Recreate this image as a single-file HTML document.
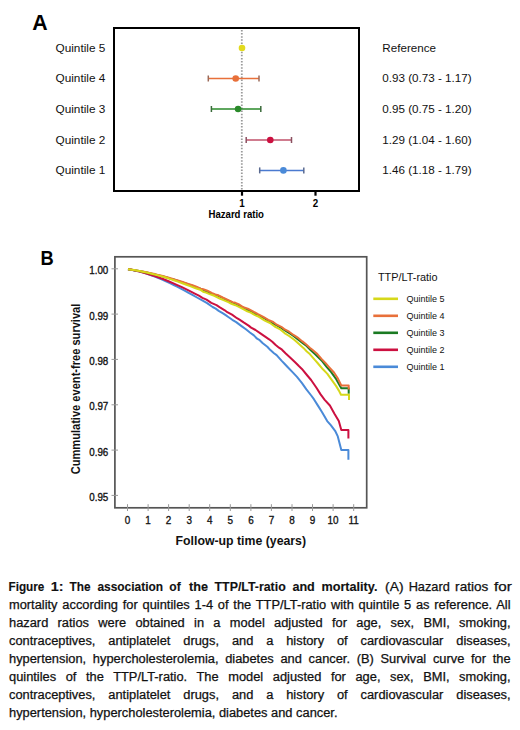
<!DOCTYPE html>
<html><head><meta charset="utf-8">
<style>
html,body{margin:0;padding:0;background:#fff;}
body{width:520px;height:730px;position:relative;overflow:hidden;font-family:"Liberation Sans",sans-serif;}
svg{position:absolute;left:0;top:0;}
svg text{font-family:"Liberation Sans",sans-serif;}
.ln{position:absolute;left:9.3px;width:468.5px;transform:scaleX(1.0705);transform-origin:0 0;font-size:12px;line-height:18px;height:18px;color:#111;-webkit-text-stroke:0.25px #111;text-align:justify;text-align-last:justify;white-space:nowrap;}
.ln.last{text-align-last:left;}
</style></head><body>
<svg width="520" height="730" viewBox="0 0 520 730">
<text x="32.3" y="29.8" font-size="21.3" font-weight="bold">A</text>
<rect x="114" y="28" width="245" height="163" fill="none" stroke="#000" stroke-width="2"/>
<line x1="241.8" y1="30" x2="241.8" y2="190" stroke="#9a9a9a" stroke-width="1.8" stroke-dasharray="1.5 1.6"/>
<text x="55.5" y="51.9" font-size="11.8" fill="#111">Quintile 5</text>
<text x="382.3" y="51.9" font-size="11.65" fill="#111">Reference</text>
<circle cx="242.0" cy="48.0" r="3.3" fill="#e2da1e"/>
<text x="55.5" y="82.4" font-size="11.8" fill="#111">Quintile 4</text>
<text x="382.3" y="82.4" font-size="11.65" fill="#111">0.93 (0.73 - 1.17)</text>
<line x1="208.3" y1="78.5" x2="259.0" y2="78.5" stroke="#e8703a" stroke-width="1.5"/>
<line x1="208.3" y1="75.5" x2="208.3" y2="81.5" stroke="#9a6a5a" stroke-width="1.5"/>
<line x1="259.0" y1="75.5" x2="259.0" y2="81.5" stroke="#9a6a5a" stroke-width="1.5"/>
<circle cx="235.7" cy="78.5" r="3.3" fill="#e8703a"/>
<text x="55.5" y="112.9" font-size="11.8" fill="#111">Quintile 3</text>
<text x="382.3" y="112.9" font-size="11.65" fill="#111">0.95 (0.75 - 1.20)</text>
<line x1="211.4" y1="109.0" x2="260.8" y2="109.0" stroke="#2a8a2a" stroke-width="1.5"/>
<line x1="211.4" y1="106.0" x2="211.4" y2="112.0" stroke="#3a6a3a" stroke-width="1.5"/>
<line x1="260.8" y1="106.0" x2="260.8" y2="112.0" stroke="#3a6a3a" stroke-width="1.5"/>
<circle cx="238.1" cy="109.0" r="3.3" fill="#2a8a2a"/>
<text x="55.5" y="143.9" font-size="11.8" fill="#111">Quintile 2</text>
<text x="382.3" y="143.9" font-size="11.65" fill="#111">1.29 (1.04 - 1.60)</text>
<line x1="246.2" y1="140.0" x2="291.5" y2="140.0" stroke="#c0506a" stroke-width="1.5"/>
<line x1="246.2" y1="137.0" x2="246.2" y2="143.0" stroke="#8a5060" stroke-width="1.5"/>
<line x1="291.5" y1="137.0" x2="291.5" y2="143.0" stroke="#8a5060" stroke-width="1.5"/>
<circle cx="270.3" cy="140.0" r="3.3" fill="#cc1040"/>
<text x="55.5" y="174.3" font-size="11.8" fill="#111">Quintile 1</text>
<text x="382.3" y="174.3" font-size="11.65" fill="#111">1.46 (1.18 - 1.79)</text>
<line x1="259.7" y1="170.4" x2="303.8" y2="170.4" stroke="#4a7ad0" stroke-width="1.5"/>
<line x1="259.7" y1="167.4" x2="259.7" y2="173.4" stroke="#5a6a90" stroke-width="1.5"/>
<line x1="303.8" y1="167.4" x2="303.8" y2="173.4" stroke="#5a6a90" stroke-width="1.5"/>
<circle cx="283.4" cy="170.4" r="3.3" fill="#4a8ad8"/>
<line x1="242" y1="191" x2="242" y2="195.7" stroke="#000" stroke-width="2.2"/>
<text transform="translate(242 206.9) scale(1 1.13)" font-size="9.8" font-weight="bold" text-anchor="middle">1</text>
<line x1="315.5" y1="191" x2="315.5" y2="195.7" stroke="#000" stroke-width="2.2"/>
<text transform="translate(315.5 206.9) scale(1 1.13)" font-size="9.8" font-weight="bold" text-anchor="middle">2</text>
<text transform="translate(208.5 218.2) scale(1 1.13)" font-size="9.6" font-weight="bold">Hazard ratio</text>
<text x="40.6" y="265.3" font-size="20.8" font-weight="bold" transform="translate(40.6 0) scale(0.88 1) translate(-40.6 0)">B</text>
<rect x="114.9" y="256.8" width="251.8" height="251" fill="none" stroke="#555" stroke-width="1.7"/>
<line x1="111.5" y1="268.8" x2="118" y2="268.8" stroke="#999" stroke-width="1"/>
<text transform="translate(108.3 274.2) scale(1 1.15)" font-size="9.8" text-anchor="end" fill="#111" stroke="#111" stroke-width="0.3">1.00</text>
<line x1="111.5" y1="314.1" x2="118" y2="314.1" stroke="#999" stroke-width="1"/>
<text transform="translate(108.3 319.5) scale(1 1.15)" font-size="9.8" text-anchor="end" fill="#111" stroke="#111" stroke-width="0.3">0.99</text>
<line x1="111.5" y1="359.4" x2="118" y2="359.4" stroke="#999" stroke-width="1"/>
<text transform="translate(108.3 364.8) scale(1 1.15)" font-size="9.8" text-anchor="end" fill="#111" stroke="#111" stroke-width="0.3">0.98</text>
<line x1="111.5" y1="404.8" x2="118" y2="404.8" stroke="#999" stroke-width="1"/>
<text transform="translate(108.3 410.2) scale(1 1.15)" font-size="9.8" text-anchor="end" fill="#111" stroke="#111" stroke-width="0.3">0.97</text>
<line x1="111.5" y1="450.1" x2="118" y2="450.1" stroke="#999" stroke-width="1"/>
<text transform="translate(108.3 455.5) scale(1 1.15)" font-size="9.8" text-anchor="end" fill="#111" stroke="#111" stroke-width="0.3">0.96</text>
<line x1="111.5" y1="495.4" x2="118" y2="495.4" stroke="#999" stroke-width="1"/>
<text transform="translate(108.3 500.8) scale(1 1.15)" font-size="9.8" text-anchor="end" fill="#111" stroke="#111" stroke-width="0.3">0.95</text>
<line x1="127.5" y1="504.2" x2="127.5" y2="511" stroke="#999" stroke-width="1"/>
<text transform="translate(127.5 524.0) scale(1 1.12)" font-size="9.9" text-anchor="middle" fill="#111" stroke="#111" stroke-width="0.3">0</text>
<line x1="148.1" y1="504.2" x2="148.1" y2="511" stroke="#999" stroke-width="1"/>
<text transform="translate(148.1 524.0) scale(1 1.12)" font-size="9.9" text-anchor="middle" fill="#111" stroke="#111" stroke-width="0.3">1</text>
<line x1="168.6" y1="504.2" x2="168.6" y2="511" stroke="#999" stroke-width="1"/>
<text transform="translate(168.6 524.0) scale(1 1.12)" font-size="9.9" text-anchor="middle" fill="#111" stroke="#111" stroke-width="0.3">2</text>
<line x1="189.2" y1="504.2" x2="189.2" y2="511" stroke="#999" stroke-width="1"/>
<text transform="translate(189.2 524.0) scale(1 1.12)" font-size="9.9" text-anchor="middle" fill="#111" stroke="#111" stroke-width="0.3">3</text>
<line x1="209.7" y1="504.2" x2="209.7" y2="511" stroke="#999" stroke-width="1"/>
<text transform="translate(209.7 524.0) scale(1 1.12)" font-size="9.9" text-anchor="middle" fill="#111" stroke="#111" stroke-width="0.3">4</text>
<line x1="230.3" y1="504.2" x2="230.3" y2="511" stroke="#999" stroke-width="1"/>
<text transform="translate(230.3 524.0) scale(1 1.12)" font-size="9.9" text-anchor="middle" fill="#111" stroke="#111" stroke-width="0.3">5</text>
<line x1="250.9" y1="504.2" x2="250.9" y2="511" stroke="#999" stroke-width="1"/>
<text transform="translate(250.9 524.0) scale(1 1.12)" font-size="9.9" text-anchor="middle" fill="#111" stroke="#111" stroke-width="0.3">6</text>
<line x1="271.4" y1="504.2" x2="271.4" y2="511" stroke="#999" stroke-width="1"/>
<text transform="translate(271.4 524.0) scale(1 1.12)" font-size="9.9" text-anchor="middle" fill="#111" stroke="#111" stroke-width="0.3">7</text>
<line x1="292.0" y1="504.2" x2="292.0" y2="511" stroke="#999" stroke-width="1"/>
<text transform="translate(292.0 524.0) scale(1 1.12)" font-size="9.9" text-anchor="middle" fill="#111" stroke="#111" stroke-width="0.3">8</text>
<line x1="312.5" y1="504.2" x2="312.5" y2="511" stroke="#999" stroke-width="1"/>
<text transform="translate(312.5 524.0) scale(1 1.12)" font-size="9.9" text-anchor="middle" fill="#111" stroke="#111" stroke-width="0.3">9</text>
<line x1="333.1" y1="504.2" x2="333.1" y2="511" stroke="#999" stroke-width="1"/>
<text transform="translate(333.1 524.0) scale(1 1.12)" font-size="9.9" text-anchor="middle" fill="#111" stroke="#111" stroke-width="0.3">10</text>
<line x1="353.7" y1="504.2" x2="353.7" y2="511" stroke="#999" stroke-width="1"/>
<text transform="translate(353.7 524.0) scale(1 1.12)" font-size="9.9" text-anchor="middle" fill="#111" stroke="#111" stroke-width="0.3">11</text>
<text x="240.8" y="545" font-size="12.3" font-weight="bold" text-anchor="middle" fill="#111">Follow-up time (years)</text>
<text transform="translate(79.8 389) rotate(-90) scale(0.925 1)" x="0" y="0" font-size="12" font-weight="bold" text-anchor="middle" fill="#111">Cummulative event-free survival</text>
<path d="M128.0,269.2 L132.4,270.0 L137.6,271.1 L142.4,272.4 L145.6,273.4 L149.0,274.5 L154.1,276.4 L156.6,277.3 L161.6,279.4 L166.5,281.6 L170.4,283.4 L173.8,285.0 L177.1,286.7 L180.4,288.4 L184.2,290.4 L188.2,292.6 L192.4,294.9 L197.9,298.0 L202.7,300.7 L207.1,303.1 L212.6,307.0 L215.7,308.6 L218.7,310.9 L223.0,313.4 L225.7,315.2 L228.3,317.0 L232.3,319.8 L236.2,322.1 L241.5,326.1 L245.9,329.3 L249.9,332.5 L253.9,335.4 L257.1,338.7 L259.7,340.2 L262.8,343.2 L267.3,346.8 L270.4,350.1 L274.0,353.2 L276.6,355.1 L281.5,360.6 L284.5,363.7 L287.8,367.2 L293.0,372.6 L297.0,376.9 L302.0,383.1 L306.4,389.4 L311.2,395.5 L313.9,399.2 L318.1,405.9 L322.1,412.2 L327.2,421.1 L330.8,425.2 L335.1,430.8 L337.8,436.4 L341.3,450.0 H348.4 V459.8" fill="none" stroke="#4a8ad8" stroke-width="2" stroke-linejoin="round"/>
<path d="M128.0,269.2 L130.6,269.6 L135.7,270.7 L139.6,271.6 L143.8,272.7 L147.3,273.7 L152.0,275.2 L154.6,276.0 L158.2,277.3 L160.8,278.2 L163.7,279.3 L169.1,281.5 L173.5,283.4 L177.3,285.1 L181.4,286.9 L186.5,289.4 L190.0,291.1 L194.3,293.3 L198.9,295.6 L202.4,297.8 L206.5,299.7 L211.3,302.8 L216.5,305.1 L219.5,307.1 L224.8,310.3 L227.3,312.2 L232.0,314.6 L237.0,318.2 L239.9,319.9 L243.6,322.4 L248.6,325.6 L251.1,327.6 L255.5,330.0 L260.4,333.4 L264.4,336.1 L269.1,339.3 L272.3,341.8 L275.4,344.8 L279.0,347.7 L282.0,349.7 L285.5,353.3 L290.9,358.2 L295.1,362.2 L298.6,365.8 L301.9,368.9 L307.3,375.5 L311.1,380.0 L316.6,388.0 L320.6,394.4 L324.7,399.8 L329.9,405.5 L334.6,414.0 L338.8,421.1 L341.3,430.1 H348.4 V438.4" fill="none" stroke="#cc1040" stroke-width="2" stroke-linejoin="round"/>
<path d="M128.0,269.2 L132.9,269.9 L137.6,270.7 L140.5,271.3 L145.7,272.3 L150.6,273.4 L155.8,274.6 L159.8,275.6 L165.1,277.0 L167.7,277.8 L170.3,278.6 L172.9,279.3 L176.1,280.3 L179.4,281.4 L182.4,282.4 L186.6,283.8 L189.2,284.8 L193.5,286.3 L196.5,287.4 L201.1,289.0 L203.6,290.4 L207.0,291.9 L212.4,294.1 L216.5,295.2 L221.4,297.3 L225.9,299.8 L230.2,301.4 L233.3,303.1 L237.5,305.4 L240.1,306.2 L245.0,308.5 L250.4,311.3 L255.5,314.0 L258.1,314.9 L261.6,317.0 L265.1,318.6 L267.9,320.6 L272.3,323.1 L277.2,325.6 L280.7,327.6 L285.7,331.0 L290.6,334.0 L293.5,336.0 L298.3,339.6 L303.5,343.7 L306.6,346.0 L310.8,350.2 L315.2,354.3 L319.5,358.5 L322.3,361.3 L326.8,367.1 L331.2,372.2 L336.2,379.2 L341.3,388.2 H348.7 V393.7" fill="none" stroke="#1a7a22" stroke-width="2" stroke-linejoin="round"/>
<path d="M128.0,269.2 L130.9,269.6 L133.6,270.0 L138.9,270.9 L142.2,271.5 L145.6,272.1 L150.6,273.2 L154.9,274.1 L158.0,274.9 L161.8,275.8 L167.0,277.2 L170.6,278.2 L175.2,279.6 L178.0,280.5 L182.7,282.0 L187.5,283.6 L192.5,285.3 L197.0,287.0 L200.6,288.7 L203.3,289.3 L207.4,290.7 L212.2,293.1 L215.2,294.5 L218.5,295.3 L222.6,297.5 L227.4,299.7 L232.6,302.1 L235.4,302.8 L238.5,304.2 L243.4,307.3 L247.8,308.7 L252.5,311.1 L258.0,314.2 L263.3,316.9 L268.3,319.8 L273.2,322.0 L276.8,324.7 L281.3,326.8 L284.3,329.1 L289.1,331.7 L293.9,335.2 L298.5,338.2 L302.4,341.4 L306.0,344.2 L309.8,347.7 L312.4,349.8 L317.4,354.1 L321.5,358.9 L325.2,362.7 L329.3,367.3 L334.0,372.5 L337.6,378.0 L341.3,385.5 H348.7 V389.6" fill="none" stroke="#e8703a" stroke-width="2" stroke-linejoin="round"/>
<path d="M128.0,269.3 L131.2,269.7 L134.1,270.1 L136.7,270.6 L140.7,271.3 L143.5,271.9 L146.6,272.5 L151.6,273.7 L155.6,274.7 L158.6,275.5 L163.2,276.8 L166.5,277.8 L170.5,279.1 L173.9,280.2 L177.9,281.6 L182.3,283.2 L186.4,284.7 L190.1,286.1 L195.0,288.0 L200.1,289.7 L203.1,291.7 L206.1,292.6 L208.9,293.9 L214.3,295.8 L219.7,298.5 L222.9,299.8 L228.3,302.2 L231.4,303.8 L235.4,305.2 L239.4,307.1 L244.6,309.8 L247.3,311.3 L250.7,312.6 L255.0,315.1 L257.7,316.2 L260.9,318.2 L264.8,320.6 L270.0,323.0 L274.7,326.5 L279.7,329.1 L284.5,333.1 L289.1,336.0 L294.2,339.8 L298.7,343.8 L303.4,347.9 L306.8,351.5 L309.8,354.1 L314.6,359.7 L317.6,363.0 L322.9,369.3 L327.2,373.6 L330.6,378.3 L336.0,385.9 L338.9,390.6 L341.0,394.8 H349.0 V400.0" fill="none" stroke="#d6d81a" stroke-width="2" stroke-linejoin="round"/>
<text x="377.9" y="281.2" font-size="10.9" fill="#111">TTP/LT-ratio</text>
<line x1="373.3" y1="298.8" x2="398" y2="298.8" stroke="#d6d81a" stroke-width="2.6"/>
<text x="406.5" y="302.1" font-size="9.0" fill="#111">Quintile 5</text>
<line x1="373.3" y1="315.8" x2="398" y2="315.8" stroke="#e8703a" stroke-width="2.6"/>
<text x="406.5" y="319.1" font-size="9.0" fill="#111">Quintile 4</text>
<line x1="373.3" y1="332.8" x2="398" y2="332.8" stroke="#1a7a22" stroke-width="2.6"/>
<text x="406.5" y="336.1" font-size="9.0" fill="#111">Quintile 3</text>
<line x1="373.3" y1="349.8" x2="398" y2="349.8" stroke="#cc1040" stroke-width="2.6"/>
<text x="406.5" y="353.1" font-size="9.0" fill="#111">Quintile 2</text>
<line x1="373.3" y1="366.8" x2="398" y2="366.8" stroke="#4a8ad8" stroke-width="2.6"/>
<text x="406.5" y="370.1" font-size="9.0" fill="#111">Quintile 1</text>
<text x="8.49" y="591.3" font-size="11.9" font-weight="bold" fill="#111" stroke="#111" stroke-width="0.12" textLength="35.91" lengthAdjust="spacingAndGlyphs">Figure</text>
<text x="50.84" y="591.3" font-size="11.9" font-weight="bold" fill="#111" stroke="#111" stroke-width="0.12" textLength="12.80" lengthAdjust="spacingAndGlyphs">1:</text>
<text x="69.58" y="591.3" font-size="11.9" font-weight="bold" fill="#111" stroke="#111" stroke-width="0.12" textLength="21.03" lengthAdjust="spacingAndGlyphs">The</text>
<text x="97.46" y="591.3" font-size="11.9" font-weight="bold" fill="#111" stroke="#111" stroke-width="0.12" textLength="65.56" lengthAdjust="spacingAndGlyphs">association</text>
<text x="169.34" y="591.3" font-size="11.9" font-weight="bold" fill="#111" stroke="#111" stroke-width="0.12" textLength="11.38" lengthAdjust="spacingAndGlyphs">of</text>
<text x="189.07" y="591.3" font-size="11.9" font-weight="bold" fill="#111" stroke="#111" stroke-width="0.12" textLength="19.06" lengthAdjust="spacingAndGlyphs">the</text>
<text x="214.58" y="591.3" font-size="11.9" font-weight="bold" fill="#111" stroke="#111" stroke-width="0.12" textLength="71.10" lengthAdjust="spacingAndGlyphs">TTP/LT-ratio</text>
<text x="292.45" y="591.3" font-size="11.9" font-weight="bold" fill="#111" stroke="#111" stroke-width="0.12" textLength="22.37" lengthAdjust="spacingAndGlyphs">and</text>
<text x="321.44" y="591.3" font-size="11.9" font-weight="bold" fill="#111" stroke="#111" stroke-width="0.12" textLength="55.97" lengthAdjust="spacingAndGlyphs">mortality.</text>
<text x="385.12" y="591.3" font-size="11.9" fill="#111" stroke="#111" stroke-width="0.25" textLength="18.41" lengthAdjust="spacingAndGlyphs">(A)</text>
<text x="408.68" y="591.3" font-size="11.9" fill="#111" stroke="#111" stroke-width="0.25" textLength="41.09" lengthAdjust="spacingAndGlyphs">Hazard</text>
<text x="455.14" y="591.3" font-size="11.9" fill="#111" stroke="#111" stroke-width="0.25" textLength="33.07" lengthAdjust="spacingAndGlyphs">ratios</text>
<text x="494.05" y="591.3" font-size="11.9" fill="#111" stroke="#111" stroke-width="0.25" textLength="17.70" lengthAdjust="spacingAndGlyphs">for</text>
</svg>
<div class="ln" style="top:596.15px">mortality according for quintiles 1-4 of the TTP/LT-ratio with quintile 5 as reference. All</div>
<div class="ln" style="top:614.15px">hazard ratios were obtained in a model adjusted for age, sex, BMI, smoking,</div>
<div class="ln" style="top:632.15px">contraceptives, antiplatelet drugs, and a history of cardiovascular diseases,</div>
<div class="ln" style="top:650.15px">hypertension, hypercholesterolemia, diabetes and cancer. (B) Survival curve for the</div>
<div class="ln" style="top:668.15px">quintiles of the TTP/LT-ratio. The model adjusted for age, sex, BMI, smoking,</div>
<div class="ln" style="top:686.15px">contraceptives, antiplatelet drugs, and a history of cardiovascular diseases,</div>
<div class="ln last" style="top:704.15px">hypertension, hypercholesterolemia, diabetes and cancer.</div>
</body></html>
